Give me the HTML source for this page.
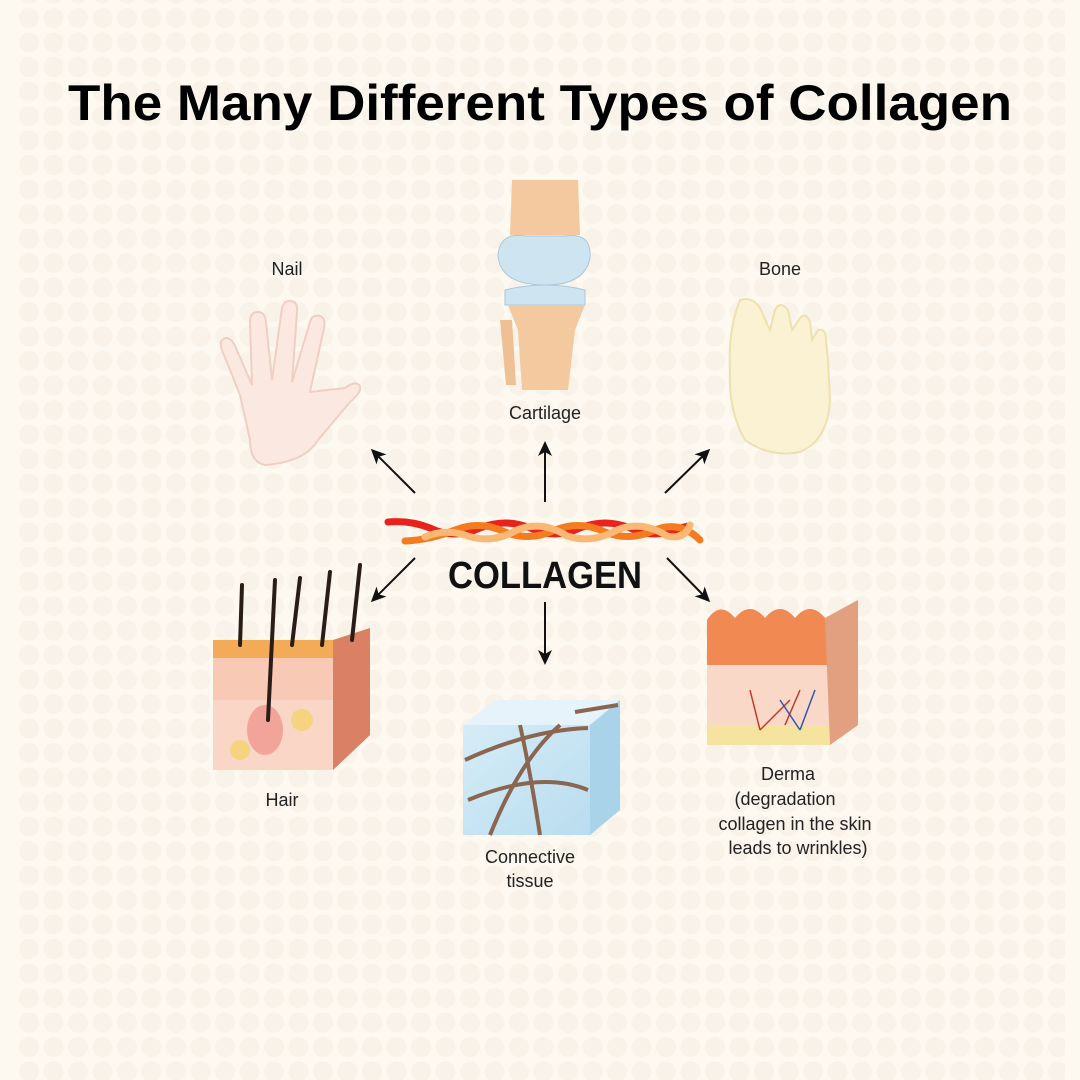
<!DOCTYPE html>
<html><head><meta charset="utf-8"><style>
html,body{margin:0;padding:0}
body{width:1080px;height:1080px;background:#fdf8f0;overflow:hidden}
svg{display:block}
</style></head><body>
<svg width="1080" height="1080" viewBox="0 0 1080 1080" xmlns="http://www.w3.org/2000/svg" font-family="Liberation Sans, sans-serif">
<defs>
<pattern id="dots" width="24.5" height="24.5" patternUnits="userSpaceOnUse" x="17" y="6">
<circle cx="12" cy="12" r="10" fill="#f8f2e8"/>
</pattern>
<marker id="ah" markerWidth="16" markerHeight="16" refX="12" refY="8" orient="auto" markerUnits="userSpaceOnUse">
<path d="M0,1 L15,8 L0,15 L4,8 Z" fill="#111"/>
</marker>
<linearGradient id="cube" x1="0" y1="0" x2="1" y2="1"><stop offset="0" stop-color="#d9eef8"/><stop offset="1" stop-color="#b5dbee"/></linearGradient>
</defs>
<rect width="1080" height="1080" fill="#fdf8f0"/>
<rect x="15" y="0" width="1050" height="1080" fill="url(#dots)"/>

<text x="540" y="120" text-anchor="middle" font-size="50" font-weight="bold" fill="#000" textLength="944" lengthAdjust="spacingAndGlyphs">The Many Different Types of Collagen</text>

<!-- Hand -->
<g fill="#fbe9e1" stroke="#f0cfc3" stroke-width="2">
<path d="M240,395 L222,350 Q218,340 226,338 Q232,338 236,348 L252,385 L250,322 Q250,312 258,312 Q265,312 266,322 L272,380 L282,308 Q284,300 291,301 Q298,302 297,312 L292,382 L310,322 Q312,314 320,316 Q326,318 324,328 L310,392 L345,388 Q356,380 360,386 Q362,392 350,402 L318,440 Q305,462 265,465 Q250,462 250,440 Z"/>
</g>
<!-- Knee -->
<g>
<path d="M512,180 L578,180 L580,235 L510,235 Z" fill="#f4c9a0"/>
<path d="M498,255 Q500,232 525,236 L565,236 Q592,232 590,258 Q585,285 545,285 Q500,285 498,255 Z" fill="#cfe4f1" stroke="#a7c9dd"/>
<path d="M505,290 Q545,280 585,290 L585,305 L505,305 Z" fill="#cfe4f1" stroke="#a7c9dd"/>
<path d="M508,305 L585,305 L575,330 L568,390 L522,390 L518,330 Z" fill="#f4c9a0"/>
<path d="M500,320 L512,320 L516,385 L506,385 Z" fill="#f0c095"/>
</g>
<!-- Foot -->
<g fill="#fbf2d3" stroke="#efe0b0" stroke-width="2">
<path d="M740,300 Q752,296 760,308 L770,330 L775,310 Q780,300 788,310 L792,330 L800,318 Q806,312 810,322 L812,340 L818,330 Q826,328 826,340 L828,360 L830,400 Q828,440 800,452 Q770,458 745,440 Q728,410 730,370 Q728,330 740,300 Z"/>
</g>

<!-- Arrows -->
<g stroke="#111" stroke-width="2" marker-end="url(#ah)">
<line x1="415" y1="493" x2="373" y2="451"/>
<line x1="545" y1="502" x2="545" y2="444"/>
<line x1="665" y1="493" x2="708" y2="451"/>
<line x1="415" y1="558" x2="373" y2="600"/>
<line x1="545" y1="602" x2="545" y2="662"/>
<line x1="667" y1="558" x2="708" y2="600"/>
</g>

<!-- Collagen rope -->
<g fill="none" stroke-linecap="round" stroke-width="7">
<path d="M388,522 Q410,520 430,528 Q455,540 480,528 Q505,518 530,528 Q555,540 580,528 Q605,518 630,528 Q655,540 680,528 L688,526" stroke="#e8231c"/>
<path d="M405,541 Q430,540 455,530 Q480,520 505,532 Q530,542 555,530 Q580,520 605,532 Q630,542 655,530 Q680,520 700,540" stroke="#f47c20"/>
<path d="M425,537 Q445,528 468,536 Q492,544 517,530 Q542,520 567,536 Q592,544 617,530 Q642,520 667,536 Q685,540 690,525" stroke="#f9b873"/>
</g>
<text x="545" y="588" text-anchor="middle" font-size="38" font-weight="bold" fill="#111" textLength="194" lengthAdjust="spacingAndGlyphs">COLLAGEN</text>

<!-- Hair block -->
<g>
<path d="M213,640 L333,640 L370,628 L370,735 L333,770 L213,770 Z" fill="#f6c3a8"/>
<rect x="213" y="640" width="120" height="18" fill="#f4ab57"/>
<path d="M213,658 L333,658 L333,770 L213,770 Z" fill="#f8c9b4"/>
<path d="M213,700 L333,700 L333,770 L213,770 Z" fill="#f9d6c6"/>
<path d="M333,640 L370,628 L370,735 L333,770 Z" fill="#d98065"/>
<ellipse cx="265" cy="730" rx="18" ry="25" fill="#f2a49a"/>
<circle cx="240" cy="750" r="10" fill="#f6d47f"/>
<circle cx="302" cy="720" r="11" fill="#f6d47f"/>
<g stroke="#2a1d18" stroke-width="4" stroke-linecap="round">
<line x1="240" y1="645" x2="242" y2="585"/>
<line x1="268" y1="720" x2="275" y2="580"/>
<line x1="292" y1="645" x2="300" y2="578"/>
<line x1="322" y1="645" x2="330" y2="572"/>
<line x1="352" y1="640" x2="360" y2="565"/>
</g>
</g>
<!-- Connective cube -->
<g>
<path d="M463,725 L590,725 L620,700 L620,810 L590,835 L463,835 Z" fill="url(#cube)"/>
<path d="M463,725 L590,725 L620,700 L495,700 Z" fill="#e6f3fa"/>
<path d="M590,725 L620,700 L620,810 L590,835 Z" fill="#a9d3e8"/>
<g stroke="#8a6650" stroke-width="4" fill="none">
<path d="M465,760 Q530,730 588,728"/>
<path d="M468,800 Q540,770 588,790"/>
<path d="M490,835 Q520,760 560,725"/>
<path d="M540,835 Q530,770 520,725"/>
<path d="M575,712 L618,705"/>
</g>
</g>
<!-- Derma -->
<g>
<path d="M707,620 Q720,600 735,618 Q750,600 765,618 Q780,600 795,618 Q810,600 825,618 L858,600 L858,725 L830,745 L707,745 Z" fill="#f6c3a8"/>
<path d="M707,620 Q720,600 735,618 Q750,600 765,618 Q780,600 795,618 Q810,600 825,618 L830,665 L707,665 Z" fill="#f08a52"/>
<path d="M707,665 L830,665 L830,745 L707,745 Z" fill="#f9d8c8"/>
<rect x="707" y="725" width="123" height="20" fill="#f6e3a0"/>
<path d="M825,618 L858,600 L858,725 L830,745 Z" fill="#e3a080"/>
<g stroke="#c0392b" stroke-width="1.5" fill="none"><path d="M760,730 L750,690 M760,730 L790,700 M785,725 L800,690"/></g>
<g stroke="#3355aa" stroke-width="1.5" fill="none"><path d="M800,730 L815,690 M800,730 L780,700"/></g>
</g>

<!-- Labels -->
<g font-size="18" fill="#222" text-anchor="middle">
<text x="287" y="275">Nail</text>
<text x="545" y="419">Cartilage</text>
<text x="780" y="275">Bone</text>
<text x="282" y="806">Hair</text>
<text x="530" y="863">Connective</text>
<text x="530" y="887">tissue</text>
<text x="788" y="780">Derma</text>
<text x="785" y="805">(degradation</text>
<text x="795" y="830">collagen in the skin</text>
<text x="798" y="854">leads to wrinkles)</text>
</g>
</svg>
</body></html>
